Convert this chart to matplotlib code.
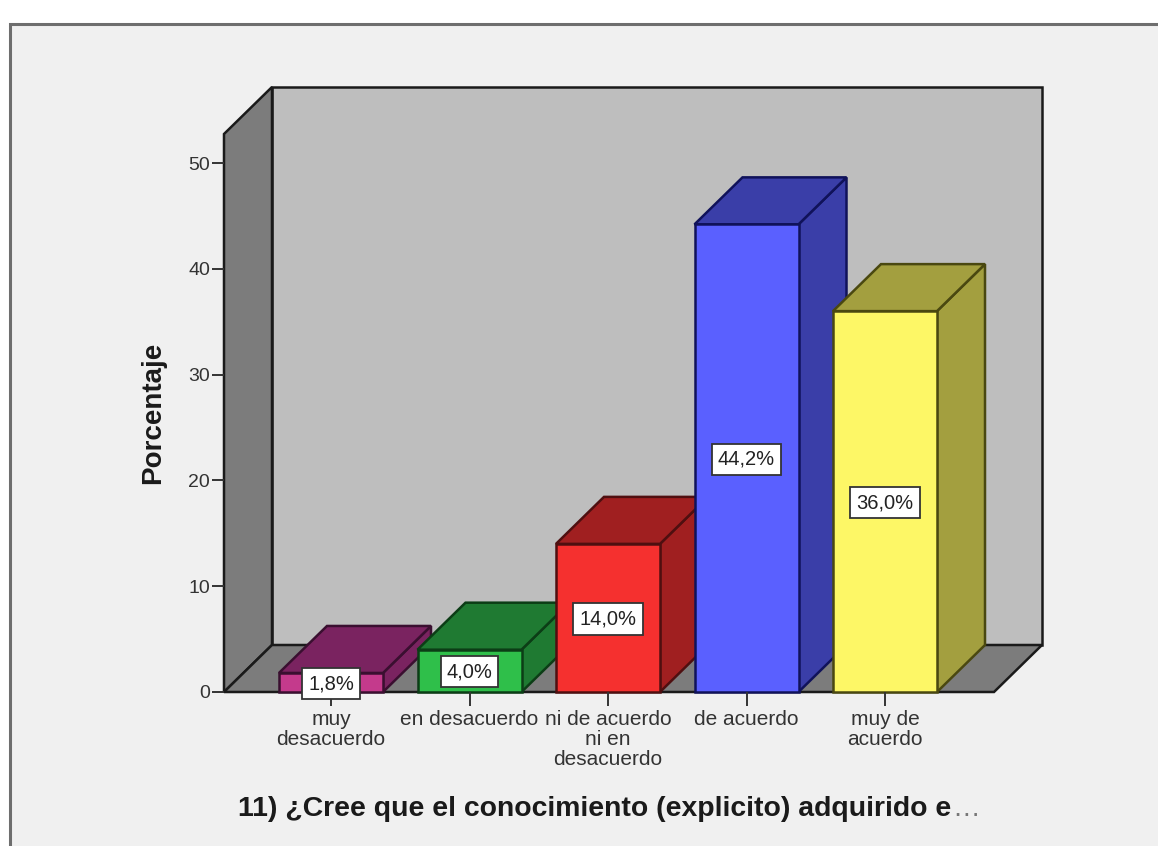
import matplotlib
matplotlib.use("Agg")
import matplotlib.pyplot as plt
from matplotlib.patches import Polygon, Rectangle

categories = ["muy\ndesacuerdo", "en desacuerdo", "ni de acuerdo\nni en\ndesacuerdo", "de acuerdo", "muy de\nacuerdo"]
values = [1.8, 4.0, 14.0, 44.2, 36.0]
labels = ["1,8%", "4,0%", "14,0%", "44,2%", "36,0%"]
front_colors = ["#c43a8c", "#2fbf4a", "#f5302f", "#5a60ff", "#fdf766"]
side_colors = ["#7a2360", "#1f7a32", "#a01f20", "#3a3ea8", "#a39f3f"]
edge_colors = ["#3a0f30", "#0c3d16", "#4f0f10", "#10125a", "#4a4810"]
yticks = [0, 10, 20, 30, 40, 50]
xlabel = "11) ¿Cree que el conocimiento (explicito) adquirido e"
xlabel_tail = "…"
ylabel = "Porcentaje"

W, H = 1158, 846
fig = plt.figure(figsize=(W / 100, H / 100), dpi=100, facecolor="white")
plt.rcParams["font.family"] = ["Liberation Sans", "DejaVu Sans"]

# panel
panel = fig.add_axes([0, 0, 1, 1], zorder=0)
panel.set_xlim(0, W); panel.set_ylim(H, 0); panel.axis("off")
panel.add_patch(Rectangle((10, 24), W, H, fc="#f0f0f0", ec="#6e6e6e", lw=2.2))

L, R, B, T = 224, 994, 692, 134
ax = fig.add_axes([L / W, 1 - B / H, (R - L) / W, (B - T) / H], zorder=1)
step = 138.5
upp = 10.58
ax.set_xlim((L - 331) / step, (R - 331) / step)
ax.set_ylim(0, (B - T) / upp)
ax.patch.set_alpha(0)
dx = 48 / step
dy = 47 / upp
x0, x1 = ax.get_xlim()
ymax = ax.get_ylim()[1]
line = "#1a1a1a"
def poly(pts, fc, ec=line, z=1, lw=1.8):
    ax.add_patch(Polygon(pts, closed=True, fc=fc, ec=ec, lw=lw, zorder=z, clip_on=False, joinstyle="miter"))

poly([(x0 + dx, dy), (x1 + dx, dy), (x1 + dx, ymax + dy), (x0 + dx, ymax + dy)], "#bebebe")
poly([(x0, 0), (x0 + dx, dy), (x0 + dx, ymax + dy), (x0, ymax)], "#7c7c7c")
poly([(x0, 0), (x1, 0), (x1 + dx, dy), (x0 + dx, dy)], "#7c7c7c")

w = 104 / step
for i, (v, fc, sc, ec) in enumerate(zip(values, front_colors, side_colors, edge_colors)):
    l, r = i - w / 2, i + w / 2
    z = 2 + i * 0.1
    poly([(r, 0), (r + dx, dy), (r + dx, v + dy), (r, v)], sc, ec, z)
    poly([(l, v), (r, v), (r + dx, v + dy), (l + dx, v + dy)], sc, ec, z)
    poly([(l, 0), (r, 0), (r, v), (l, v)], fc, ec, z)
    ax.text(i, v / 2 - 0.1, labels[i], ha="center", va="center", fontsize=14.5, color="#222222", zorder=5,
            clip_on=False, bbox=dict(boxstyle="square,pad=0.3", fc="white", ec="#333333", lw=1.3))

for s in ax.spines.values():
    s.set_visible(False)
ax.set_xticks(range(len(categories)))
ax.set_xticklabels(categories, fontsize=15, color="#333333", linespacing=1.08)
ax.set_yticks(yticks)
ax.set_yticklabels([str(t) for t in yticks], fontsize=14, color="#333333")
ax.tick_params(axis="x", length=10, width=1.4, color="#333333", pad=3)
ax.tick_params(axis="y", length=9, width=1.4, color="#333333", pad=1)
ax.set_axisbelow(False)

fig.text(153 / W, 1 - 413 / H, ylabel, rotation=90, ha="center", va="center", fontsize=20, fontweight="bold", color="#1a1a1a", zorder=5)
fig.text(238 / W, 1 - 809 / H, xlabel, ha="left", va="center", fontsize=20.4, fontweight="bold", color="#1a1a1a", zorder=5)
fig.text(952 / W, 1 - 809 / H, xlabel_tail, ha="left", va="center", fontsize=20, color="#777777", zorder=5)
fig.savefig("out.png", dpi=100, facecolor=fig.get_facecolor())
